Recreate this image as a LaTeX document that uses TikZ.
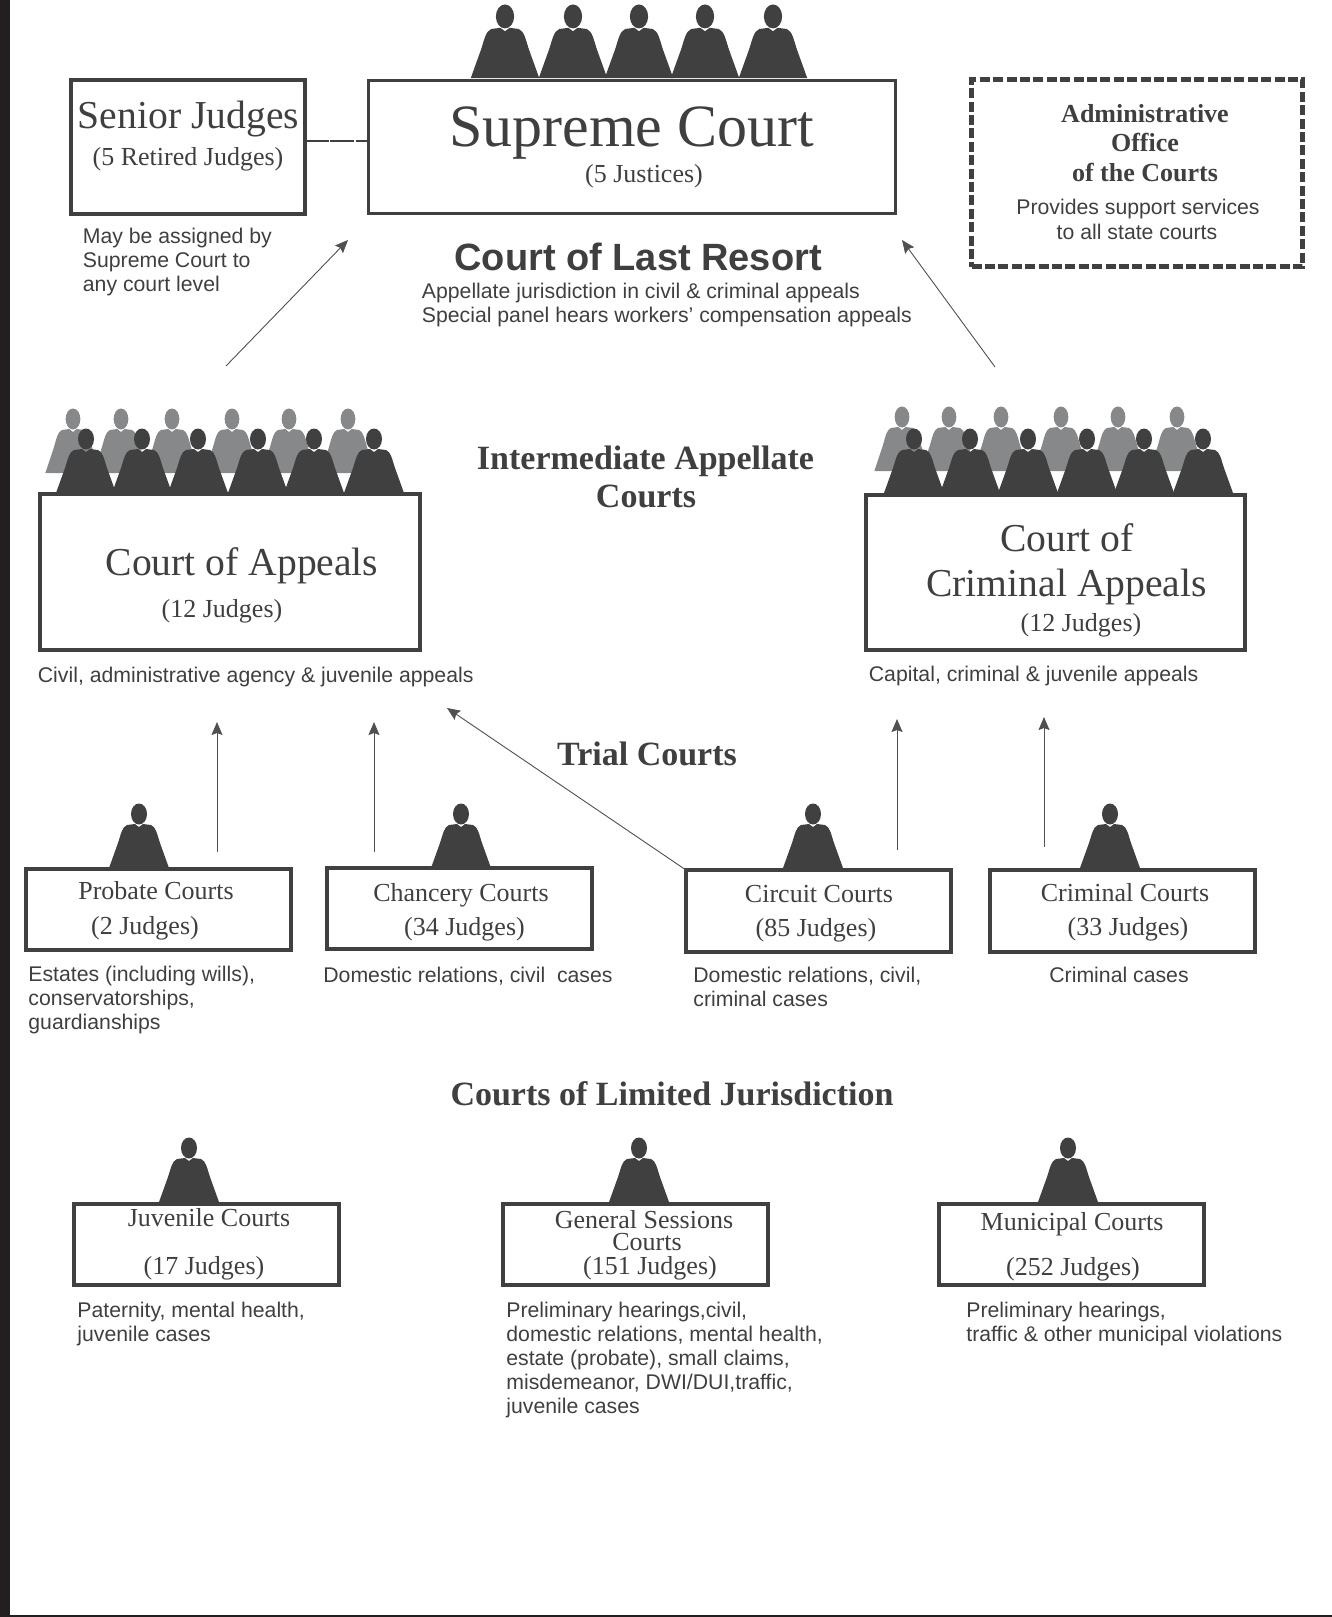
\documentclass[tikz,border=0pt]{standalone}
\usepackage{fontspec}
\setmainfont{Liberation Serif}
\setsansfont{Liberation Sans}
\usetikzlibrary{arrows.meta}
\definecolor{myink}{HTML}{3F3F3F}
\definecolor{mydark}{HTML}{404040}
\definecolor{mygrey}{HTML}{87888A}
\definecolor{mybar}{HTML}{231F20}
\definecolor{myline}{HTML}{505050}
\tikzstyle{arrow} = [myline,line width=0.45pt,-{Stealth[inset=1pt,length=6.5pt,width=5.5pt]}]
\tikzstyle{bench} = [draw=mydark,line width=2pt,inner sep=0pt,outer sep=0pt]
\tikzstyle{upper} = [bench,line width=1.5pt]
\tikzstyle{office} = [bench,line width=2.5pt,dash pattern=on 5pt off 1.7pt]
\tikzstyle{rom} = [text=myink,inner sep=0pt,anchor=base]
\tikzstyle{title} = [rom,font=\fontsize{19.8}{24}\selectfont]
\tikzstyle{small} = [rom,font=\fontsize{13}{15}\selectfont]
\tikzstyle{tier} = [rom,font=\bfseries\fontsize{17}{20}\selectfont]
\tikzstyle{admin} = [rom,font=\bfseries\fontsize{13}{15}\selectfont]
\tikzstyle{note} = [text=myink,inner sep=0pt,anchor=base west,align=left,font=\sffamily\fontsize{10.62}{12}\selectfont]
\tikzset{judge/.pic={
  \path[pic actions] (0,-54) ellipse (8 and 10.5);
  \path[pic actions] (-30,0) -- (-21,-25) .. controls (-18,-34) and (-17,-41) .. (-12,-43) -- (-4,-44) -- (0,-41) -- (4,-44) -- (12,-43) .. controls (17,-41) and (18,-34) .. (21,-25) -- (30,0) -- cycle;
}}
\begin{document}
\begin{tikzpicture}[x=0.5pt,y=-0.5pt]
            \useasboundingbox (0,0) rectangle (1332,1617);
            \fill[mybar] (0,0) rectangle (10,1617);
            \fill[mybar] (0,1615) rectangle (1332,1617);
            % Judges
            \foreach \x in {505,573,639,705,773} \pic[fill=mydark,scale=1.14] at (\x,78) {judge};
            \foreach \x in {73,121,172,232,289,348} \pic[fill=mygrey,xscale=.92] at (\x,473) {judge};
            \foreach \x in {86,142,198,258,314,374} \pic[fill=mydark] at (\x,493) {judge};
            \foreach \x in {902,949,1001,1061,1118,1177} \pic[fill=mygrey,xscale=.92] at (\x,471) {judge};
            \foreach \x in {914,970,1028,1087,1144,1203} \pic[fill=mydark] at (\x,493) {judge};
            \foreach \x in {139,461,813,1110} \pic[fill=mydark] at (\x,868) {judge};
            \foreach \x in {189,639,1068} \pic[fill=mydark] at (\x,1202) {judge};
            % Boxes
            \node[bench,minimum width=117pt,minimum height=67pt] (senior) at (188,147) {};
            \node[upper,minimum width=263.5pt,minimum height=66.5pt] (supreme) at (632,146.5) {};
            \node[office,minimum width=165.5pt,minimum height=93.5pt] (aoc) at (1137,173) {};
            \node[bench,minimum width=190pt,minimum height=78pt] (appeals) at (230,572) {};
            \node[bench,minimum width=189.5pt,minimum height=77.5pt] (criminal) at (1055.5,572.5) {};
            \node[bench,minimum width=132.5pt,minimum height=40.5pt] (probate) at (158.5,909.5) {};
            \node[bench,minimum width=132.5pt,minimum height=40.5pt] (chancery) at (459.5,908.5) {};
            \node[bench,minimum width=132.5pt,minimum height=41pt] (circuit) at (818.5,911) {};
            \node[bench,minimum width=132.5pt,minimum height=41pt] (crimcourt) at (1122.5,911) {};
            \node[bench,minimum width=132.5pt,minimum height=40.5pt] (juvenile) at (206.5,1244.5) {};
            \node[bench,minimum width=132.5pt,minimum height=40.5pt] (sessions) at (635.5,1244.5) {};
            \node[bench,minimum width=132.5pt,minimum height=40.5pt] (municipal) at (1071,1244.5) {};
            % Box texts
            \node[title] (seniorname) at (188.5,128) {Senior Judges};
            \node[small] (seniorcount) at (188,165) {(5 Retired Judges)};
            \node[rom,font=\fontsize{30}{36}\selectfont] (supremename) at (631.5,146) {Supreme Court};
            \node[small] (supremecount) at (644,182.5) {(5 Justices)};
            \node[admin] (aoc1) at (1145,122) {Administrative};
            \node[admin] (aoc2) at (1145,151) {Office};
            \node[admin] (aoc3) at (1145,181) {of the Courts};
            \node[note,anchor=base] (aoc4) at (1138,214) {Provides support services};
            \node[note,anchor=base] (aoc5) at (1137,239) {to all state courts};
            \node[title] (appealsname) at (242,575.5) {Court of Appeals};
            \node[small] (appealscount) at (222,617) {(12 Judges)};
            \node[title] (criminal1) at (1067,551) {Court of};
            \node[title] (criminal2) at (1066.5,596) {Criminal Appeals};
            \node[small] (criminalcount) at (1081,631) {(12 Judges)};
            \node[small] (probatename) at (156,899) {Probate Courts};
            \node[small] (probatecount) at (145,934) {(2 Judges)};
            \node[small] (chanceryname) at (461,901) {Chancery Courts};
            \node[small] (chancerycount) at (464.5,935) {(34 Judges)};
            \node[small] (circuitname) at (819,902) {Circuit Courts};
            \node[small] (circuitcount) at (816,936.5) {(85 Judges)};
            \node[small] (crimcourtname) at (1125,901) {Criminal Courts};
            \node[small] (crimcourtcount) at (1128,935.5) {(33 Judges)};
            \node[small] (juvenilename) at (209,1226.5) {Juvenile Courts};
            \node[small] (juvenilecount) at (204,1274) {(17 Judges)};
            \node[small] (sessions1) at (644,1228) {General Sessions};
            \node[small] (sessions2) at (647,1250.5) {Courts};
            \node[small] (sessionscount) at (650,1274) {(151 Judges)};
            \node[small] (municipalname) at (1072,1230) {Municipal Courts};
            \node[small] (municipalcount) at (1073,1275) {(252 Judges)};
            % Tier headings
            \node[rom,font=\bfseries\sffamily\fontsize{19}{23}\selectfont,anchor=base west] (lastresort) at (454,270) {Court of Last Resort};
            \node[tier] (inter1) at (645.5,469.5) {Intermediate Appellate};
            \node[tier] (inter2) at (646,507) {Courts};
            \node[tier] (trial) at (647,765) {Trial Courts};
            \node[tier] (limited) at (672,1105.5) {Courts of Limited Jurisdiction};
            % Notes
            \node[note] (seniornote) at (82.5,291) {May be assigned by\\Supreme Court to\\any court level};
            \node[note] (supremenote) at (421.5,322) {Appellate jurisdiction in civil \& criminal appeals\\Special panel hears workers' compensation appeals};
            \node[note] (appealsnote) at (37.5,682) {Civil, administrative agency \& juvenile appeals};
            \node[note] (criminalnote) at (868.5,681) {Capital, criminal \& juvenile appeals};
            \node[note] (probatenote) at (28,1029) {Estates (including wills),\\conservatorships,\\guardianships};
            \node[note] (chancerynote) at (323,982) {Domestic relations, civil\ \ cases};
            \node[note] (circuitnote) at (693,1006) {Domestic relations, civil,\\criminal cases};
            \node[note] (crimcourtnote) at (1049,982) {Criminal cases};
            \node[note] (juvenilenote) at (77,1341) {Paternity, mental health,\\juvenile cases};
            \node[note] (sessionsnote) at (506,1413) {Preliminary hearings,civil,\\domestic relations, mental health,\\estate (probate), small claims,\\misdemeanor, DWI/DUI,traffic,\\juvenile cases};
            \node[note] (municipalnote) at (966,1341) {Preliminary hearings,\\traffic \& other municipal violations};
            % Arrow ends
            \coordinate (tailA) at (226,366);
            \coordinate (tipA) at (348,240);
            \coordinate (tailB) at (995,367);
            \coordinate (tipB) at (902,240);
            \coordinate (tailC) at (217,852);
            \coordinate (tipC) at (217,722);
            \coordinate (tailD) at (374,852);
            \coordinate (tipD) at (374,722);
            \coordinate (tipE) at (447,708);
            \coordinate (tailF) at (897,850);
            \coordinate (tipF) at (897,719);
            \coordinate (tailG) at (1044,847);
            \coordinate (tipG) at (1044,717);
            % Connectors
            \draw[myink,line width=1pt,dash pattern=on 12pt off 0.7pt] (senior.3) -- (senior.3 -| supreme.west);
            \draw[arrow] (tailA) -- (tipA);
            \draw[arrow] (tailB) -- (tipB);
            \draw[arrow] (tailC) -- (tipC);
            \draw[arrow] (tailD) -- (tipD);
            \draw[arrow] (circuit.north west) -- (tipE);
            \draw[arrow] (tailF) -- (tipF);
            \draw[arrow] (tailG) -- (tipG);
\end{tikzpicture}
\end{document}
